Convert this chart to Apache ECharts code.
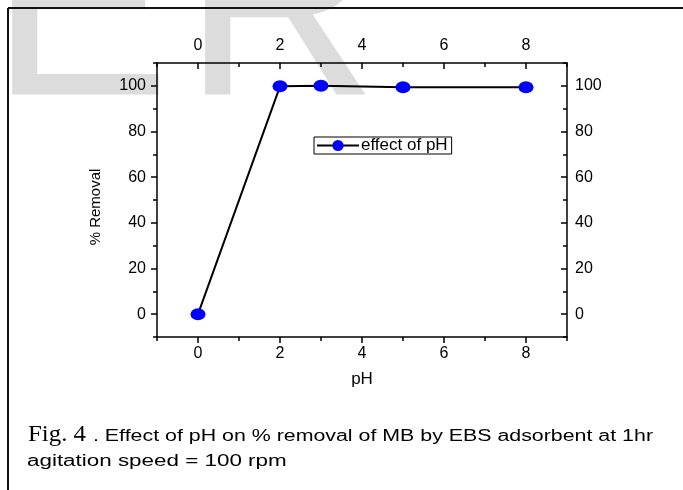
<!DOCTYPE html>
<html><head><meta charset="utf-8">
<script src="https://cdn.jsdelivr.net/npm/echarts@6/dist/echarts.min.js"></script>
<style>html,body{margin:0;padding:0;background:#fff}#c{width:683px;height:490px}</style>
</head><body><div id="c"></div>
<script>
const pHValues = [0, 2, 3, 5, 8];
const removal = [0, 99.8, 100, 99.4, 99.4];
const xMajorTicks = [0, 2, 4, 6, 8];
const yMajorTicks = [0, 20, 40, 60, 80, 100];
const seriesName = 'effect of pH';
const xTitle = 'pH';
const yTitle = '% Removal';
const captionFig = 'Fig. 4';
const captionLine1 = '. Effect of pH on % removal of MB by EBS adsorbent at 1hr';
const captionLine2 = 'agitation speed = 100 rpm';

const SANS = "'Liberation Sans', Arial, sans-serif";
const lbl = {fontFamily: SANS, fontSize: 16, color: '#000'};
const axLine = {show: true, onZero: false, lineStyle: {color: '#000', width: 1.5}};
const noLine = {show: false, onZero: false};

function xAx(pos, major, inside, extra) {
  return Object.assign({
    type: 'value', position: pos, min: -1, max: 9, interval: 1,
    axisLine: major ? axLine : noLine,
    axisTick: major ? {show: true, inside: inside, length: 6, customValues: xMajorTicks, lineStyle: {color: '#000', width: 1.5}}
                    : {show: true, inside: inside, length: 4, lineStyle: {color: '#000', width: 1.5}},
    axisLabel: major ? Object.assign({show: true, customValues: xMajorTicks, margin: 9}, lbl) : {show: false},
    splitLine: {show: false}
  }, extra || {});
}
function yAx(pos, major, inside, extra) {
  return Object.assign({
    type: 'value', position: pos, min: -10, max: 110, interval: 10,
    axisLine: major ? axLine : noLine,
    axisTick: major ? {show: true, inside: inside, length: 6, customValues: yMajorTicks, lineStyle: {color: '#000', width: 1.5}}
                    : {show: true, inside: inside, length: 4, lineStyle: {color: '#000', width: 1.5}},
    axisLabel: major ? Object.assign({show: true, customValues: yMajorTicks, margin: pos === 'left' ? 11 : 8}, lbl) : {show: false},
    splitLine: {show: false}
  }, extra || {});
}

const chart = echarts.init(document.getElementById('c'), null, {renderer: 'canvas'});
chart.setOption({
  animation: false,
  backgroundColor: '#fff',
  grid: {left: 157, top: 63, width: 410, height: 274},
  xAxis: [
    xAx('bottom', true, false, {name: xTitle, nameLocation: 'middle', nameGap: 34, nameTextStyle: {fontFamily: SANS, fontSize: 17, color: '#000'}}),
    xAx('bottom', false, false),
    xAx('top', true, true),
    xAx('top', false, true)
  ],
  yAxis: [
    yAx('left', true, false),
    yAx('left', false, false),
    yAx('right', true, true),
    yAx('right', false, true)
  ],
  legend: {
    left: 314, top: 137, orient: 'horizontal',
    data: [seriesName],
    itemWidth: 42, itemHeight: 14, itemGap: 0,
    borderColor: '#000', borderWidth: 1, padding: [0, 4, 0, 2],
    backgroundColor: '#fff',
    textStyle: {fontFamily: SANS, fontSize: 17, color: '#000', padding: [0, 0, 0, -3]}
  },
  series: [{
    name: seriesName, type: 'line', xAxisIndex: 0, yAxisIndex: 0,
    data: pHValues.map((x, i) => [x, removal[i]]),
    symbol: 'circle', symbolSize: [15, 12], showSymbol: true,
    itemStyle: {color: '#0000ff'},
    lineStyle: {color: '#000', width: 2},
    z: 5
  }],
  graphic: [
    {type: 'text', x: -10, y: 20, z: -10, silent: true,
     style: {text: 'E', font: "270px 'Liberation Sans', Arial, sans-serif", fill: '#dcdcdc', verticalAlign: 'middle', align: 'left'}},
    {type: 'text', x: 183, y: 20, z: -10, silent: true,
     style: {text: 'R', font: "270px 'Liberation Sans', Arial, sans-serif", fill: '#dcdcdc', verticalAlign: 'middle', align: 'left'}},
    {type: 'line', z: 10, shape: {x1: 8, y1: 8, x2: 683, y2: 8}, style: {stroke: '#111', lineWidth: 2}},
    {type: 'line', z: 10, shape: {x1: 8, y1: 8, x2: 8, y2: 490}, style: {stroke: '#111', lineWidth: 2}},
    {type: 'text', x: 96, y: 207, z: 10, rotation: Math.PI / 2,
     style: {text: yTitle, font: "15px 'Liberation Sans', Arial, sans-serif", fill: '#000', align: 'center', verticalAlign: 'middle'}},
    {type: 'text', x: 28, y: 435, z: 10, scaleX: 1.08,
     style: {text: captionFig, font: "23px 'Liberation Serif', 'Times New Roman', serif", fill: '#000', verticalAlign: 'middle'}},
    {type: 'text', x: 93, y: 437, z: 10, scaleX: 1.335,
     style: {text: captionLine1, font: "16px 'Liberation Sans', Arial, sans-serif", fill: '#000', verticalAlign: 'middle'}},
    {type: 'text', x: 27, y: 462, z: 10, scaleX: 1.4,
     style: {text: captionLine2, font: "16px 'Liberation Sans', Arial, sans-serif", fill: '#000', verticalAlign: 'middle'}}
  ]
});
</script></body></html>
